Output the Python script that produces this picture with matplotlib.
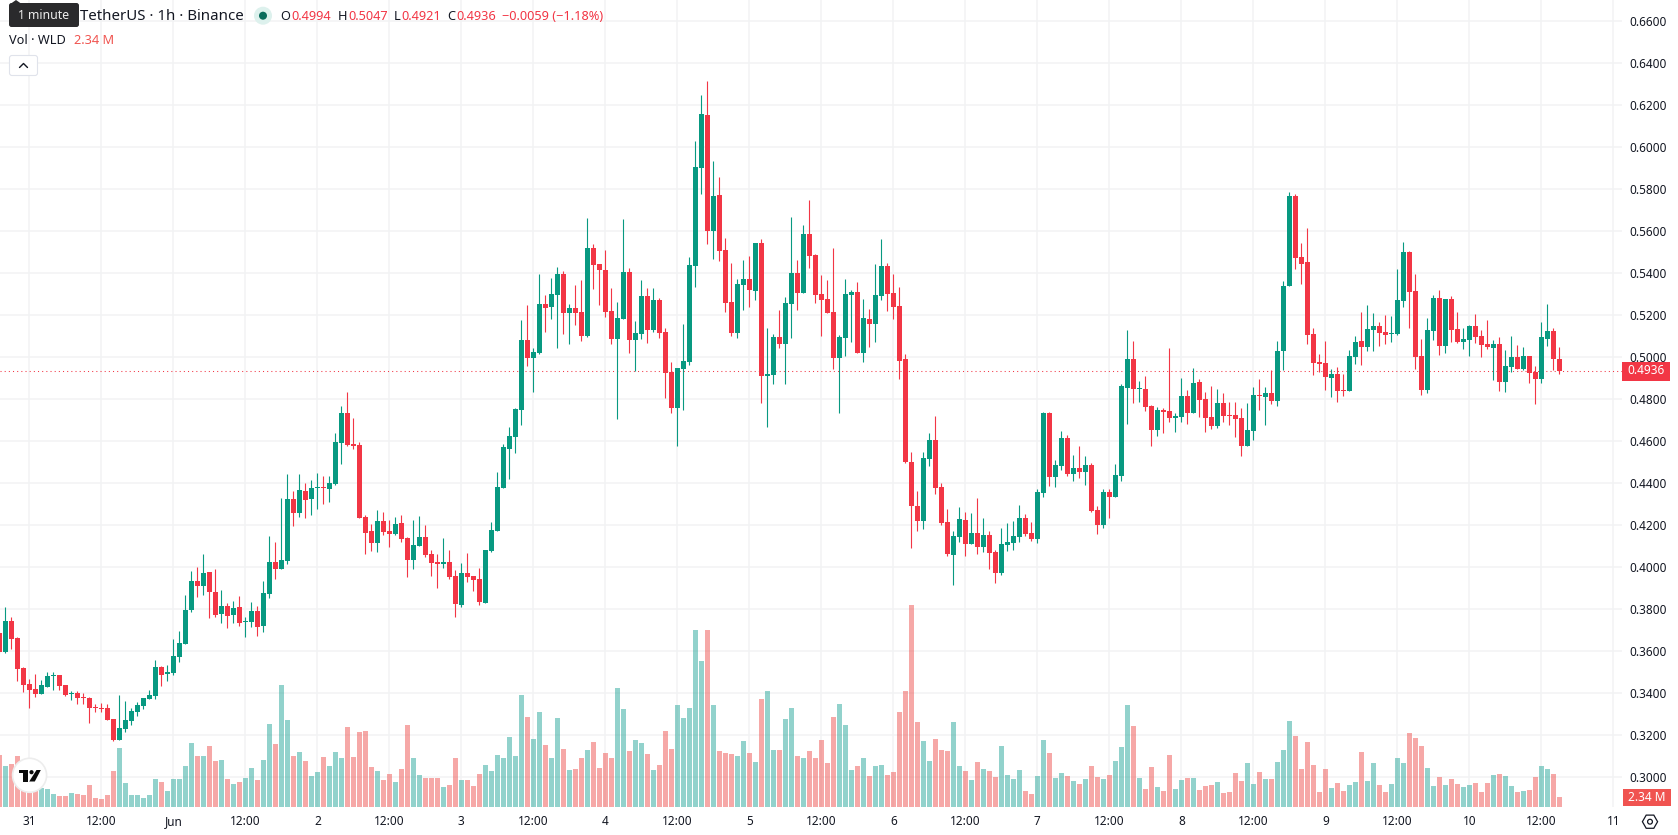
import matplotlib
matplotlib.use("Agg")
import matplotlib.pyplot as plt
from matplotlib.patches import Circle, FancyBboxPatch, Polygon, RegularPolygon, Rectangle

plt.rcParams["font.family"] = ["Noto Sans", "DejaVu Sans"]

# Hourly WLD/USDT candles; bar 0 is 31 May 00:00, the first bars belong to 30 May.
first_hour = -5
opens = [
    .3686, .3598, .3744, .3664, .3521,
    .3444, .3421, .3397, .3430, .3483, .3487, .3440, .3397, .3402, .3383, .3378, .3335,
    .3330, .3330, .3278, .3178, .3230, .3268, .3311, .3340, .3373, .3387, .3525, .3492,
    .3497, .3573, .3635, .3797, .3935, .3911, .3978, .3883, .3778, .3816, .3773, .3811,
    .3740, .3740, .3792, .3721, .3873, .4025, .3992, .4030, .4325, .4259, .4364, .4325,
    .4378, .4383, .4373, .4397, .4592, .4735, .4587, .4583, .4240, .4173, .4116, .4221,
    .4173, .4159, .4211, .4140, .4035, .4102, .4144, .4064, .4025, .4016, .4025, .3959,
    .3821, .3973, .3959, .3944, .3830, .4078, .4173, .4378, .4564, .4621, .4749, .5083,
    .4997, .5021, .5254, .5240, .5297, .5397, .5211, .5235, .5216, .5102, .5521, .5444,
    .5416, .5221, .5087, .5183, .5406, .5083, .5111, .5292, .5130, .5273, .5121, .4930,
    .4759, .4944, .4978, .5435, .5902, .6154, .5602, .5773, .5511, .5264, .5116, .5344,
    .5373, .5316, .5544, .4911, .4916, .5097, .5063, .5254, .5402, .5306, .5587, .5487,
    .5302, .5278, .5216, .4997, .5092, .5297, .5311, .5021, .5182, .5159, .5292, .5435,
    .5306, .5244, .4992, .4502, .4292, .4221, .4516, .4606, .4383, .4216, .4059, .4144,
    .4225, .4111, .4164, .4097, .4154, .4073, .3973, .4106, .4116, .4145, .4235, .4164,
    .4135, .4354, .4735, .4430, .4483, .4616, .4445, .4473, .4454, .4487, .4273, .4202,
    .4359, .4335, .4435, .4854, .4992, .4849, .4849, .4768, .4654, .4749, .4745, .4711,
    .4716, .4816, .4735, .4883, .4802, .4716, .4673, .4783, .4725, .4725, .4711, .4578,
    .4649, .4821, .4811, .4830, .4792, .5030, .5340, .5768, .5478, .5454, .5111, .4978,
    .4973, .4902, .4921, .4844, .4840, .5002, .5078, .5049, .5130, .5149, .5121, .5111,
    .5111, .5268, .5502, .5316, .5006, .4844, .5125, .5283, .5054, .5278, .5135, .5073,
    .5082, .5149, .5102, .5063, .5044, .5063, .4883, .4954, .5002, .4944, .5006, .4930,
    .4897, .5087, .5125, .4994,
]
highs = [
    .3690, .3811, .3764, .3668, .3525,
    .3468, .3492, .3464, .3502, .3502, .3487, .3440, .3411, .3411, .3402, .3383, .3349,
    .3354, .3349, .3278, .3392, .3364, .3330, .3359, .3378, .3416, .3559, .3530, .3535,
    .3659, .3697, .3868, .3983, .4002, .4064, .3978, .3992, .3892, .3830, .3840, .3864,
    .3764, .3835, .3816, .3935, .4149, .4121, .4330, .4445, .4364, .4445, .4402, .4416,
    .4449, .4435, .4435, .4640, .4768, .4835, .4711, .4597, .4249, .4206, .4273, .4264,
    .4225, .4240, .4249, .4144, .4225, .4245, .4202, .4083, .4064, .4140, .4083, .3987,
    .4021, .4068, .3959, .3997, .4083, .4216, .4454, .4587, .4668, .4759, .5178, .5249,
    .5045, .5397, .5297, .5378, .5430, .5411, .5254, .5344, .5368, .5664, .5540, .5444,
    .5511, .5330, .5264, .5659, .5425, .5173, .5368, .5330, .5330, .5283, .5140, .4978,
    .4949, .5159, .5478, .6030, .6249, .6316, .5935, .5859, .5568, .5449, .5373, .5463,
    .5483, .5544, .5563, .5140, .5111, .5225, .5287, .5668, .5463, .5630, .5749, .5492,
    .5392, .5368, .5521, .5106, .5373, .5321, .5359, .5278, .5230, .5444, .5563, .5449,
    .5397, .5335, .5016, .4549, .4363, .4549, .4640, .4721, .4402, .4278, .4173, .4287,
    .4263, .4259, .4330, .4235, .4173, .4083, .4187, .4211, .4221, .4297, .4254, .4216,
    .4373, .4740, .4740, .4511, .4649, .4630, .4535, .4578, .4530, .4497, .4292, .4373,
    .4373, .4492, .4873, .5130, .5078, .4887, .4911, .4773, .4764, .4759, .5045, .4735,
    .4902, .4845, .4949, .4897, .4835, .4864, .4849, .4830, .4787, .4787, .4759, .4783,
    .4859, .4897, .4859, .4940, .5078, .5363, .5787, .5778, .5544, .5616, .5140, .5016,
    .5078, .4944, .4954, .4921, .5035, .5102, .5216, .5249, .5211, .5168, .5202, .5197,
    .5421, .5549, .5506, .5397, .5087, .5187, .5297, .5321, .5278, .5292, .5216, .5140,
    .5154, .5206, .5130, .5178, .5082, .5097, .5035, .5102, .5059, .5049, .5006, .4959,
    .5168, .5254, .5140, .5047,
]
lows = [
    .3590, .3594, .3611, .3459, .3406,
    .3330, .3383, .3397, .3430, .3416, .3416, .3387, .3368, .3349, .3349, .3259, .3311,
    .3311, .3273, .3173, .3178, .3216, .3249, .3292, .3325, .3373, .3373, .3435, .3459,
    .3487, .3549, .3635, .3787, .3859, .3868, .3759, .3764, .3735, .3711, .3735, .3721,
    .3668, .3716, .3673, .3692, .3854, .3944, .3992, .4016, .4197, .4240, .4235, .4249,
    .4278, .4302, .4311, .4392, .4492, .4578, .4564, .4235, .4064, .4078, .4073, .4154,
    .4097, .4154, .4121, .3954, .3992, .4102, .4049, .3959, .3902, .3997, .3944, .3764,
    .3811, .3930, .3887, .3821, .3830, .4073, .4173, .4378, .4421, .4545, .4678, .4959,
    .4835, .5016, .5121, .5183, .5044, .5111, .5064, .5154, .5078, .5097, .5325, .5249,
    .5192, .5064, .4706, .5183, .5021, .4935, .5087, .5068, .5121, .5092, .4806, .4735,
    .4578, .4749, .4964, .5335, .5778, .5540, .5468, .5459, .5216, .5102, .5092, .5225,
    .5240, .5273, .4783, .4668, .4873, .5044, .4873, .5092, .5225, .5306, .5425, .5259,
    .5102, .5211, .4944, .4735, .5006, .5073, .5021, .4978, .5049, .5073, .5273, .5221,
    .5182, .4897, .4497, .4092, .4173, .4183, .4483, .4349, .4202, .4054, .3916, .4121,
    .4054, .4111, .4063, .4073, .3992, .3925, .3963, .4078, .4083, .4121, .4149, .4125,
    .4116, .4335, .4387, .4383, .4463, .4435, .4411, .4425, .4392, .4264, .4159, .4187,
    .4235, .4335, .4411, .4683, .4783, .4787, .4745, .4578, .4625, .4640, .4692, .4645,
    .4692, .4683, .4735, .4716, .4645, .4659, .4664, .4692, .4678, .4621, .4530, .4578,
    .4606, .4749, .4678, .4778, .4768, .4940, .5340, .5421, .5349, .5063, .4916, .4930,
    .4844, .4811, .4787, .4816, .4840, .4968, .4963, .5030, .5030, .5054, .5063, .5073,
    .5106, .5240, .5140, .4944, .4821, .4830, .5082, .5011, .5021, .5073, .5068, .5040,
    .5006, .5068, .5002, .5040, .4892, .4840, .4835, .4930, .4944, .4940, .4878, .4778,
    .4878, .5054, .4940, .4921,
]
closes = [
    .3598, .3744, .3659, .3517, .3440,
    .3416, .3397, .3440, .3483, .3487, .3435, .3392, .3402, .3378, .3378, .3330, .3330,
    .3325, .3273, .3178, .3235, .3273, .3316, .3344, .3378, .3392, .3525, .3487, .3502,
    .3578, .3640, .3797, .3935, .3911, .3973, .3883, .3773, .3816, .3768, .3806, .3735,
    .3744, .3792, .3716, .3878, .4025, .3992, .4035, .4325, .4259, .4368, .4321, .4378,
    .4383, .4378, .4402, .4597, .4735, .4583, .4578, .4235, .4164, .4116, .4221, .4168,
    .4159, .4206, .4135, .4035, .4106, .4144, .4059, .4021, .4016, .4025, .3954, .3825,
    .3973, .3954, .3940, .3835, .4083, .4178, .4383, .4573, .4625, .4754, .5083, .4997,
    .5025, .5254, .5235, .5302, .5397, .5211, .5235, .5211, .5102, .5521, .5440, .5416,
    .5216, .5087, .5187, .5406, .5083, .5116, .5292, .5130, .5273, .5116, .4925, .4759,
    .4949, .4983, .5440, .5906, .6159, .5602, .5768, .5506, .5259, .5116, .5349, .5373,
    .5321, .5544, .4911, .4921, .5097, .5064, .5259, .5402, .5306, .5587, .5483, .5297,
    .5273, .5211, .4997, .5097, .5302, .5311, .5021, .5187, .5159, .5297, .5435, .5302,
    .5240, .4983, .4502, .4292, .4221, .4521, .4606, .4378, .4211, .4063, .4149, .4230,
    .4111, .4164, .4097, .4154, .4068, .3973, .4111, .4121, .4149, .4235, .4159, .4135,
    .4359, .4735, .4430, .4487, .4616, .4445, .4473, .4454, .4487, .4268, .4202, .4359,
    .4335, .4440, .4864, .4992, .4849, .4854, .4764, .4654, .4749, .4740, .4711, .4721,
    .4816, .4735, .4878, .4797, .4711, .4673, .4783, .4721, .4721, .4706, .4578, .4654,
    .4821, .4816, .4830, .4792, .5030, .5340, .5768, .5473, .5444, .5106, .4973, .4968,
    .4906, .4921, .4840, .4840, .5006, .5073, .5049, .5135, .5149, .5116, .5106, .5116,
    .5273, .5502, .5311, .5002, .4844, .5130, .5283, .5054, .5278, .5130, .5073, .5087,
    .5149, .5097, .5059, .5049, .5063, .4883, .4959, .5002, .4944, .5006, .4925, .4897,
    .5097, .5125, .4992, .4936,
]
# Traded volume per hour, in millions of WLD.
volumes = [
    12.17, 9.59, 10.06, 11.93, 7.49,
    4.68, 6.24, 4.37, 4.21, 3.04, 2.57, 2.57, 3.28, 3.04, 2.81, 5.15, 2.11,
    1.87, 2.81, 8.42, 13.81, 5.62, 2.81, 2.81, 2.11, 2.81, 6.55, 5.85, 3.74,
    6.55, 6.55, 9.59, 14.98, 11.93, 11.93, 14.27, 10.76, 11.00, 6.55, 5.38, 5.85,
    6.79, 9.13, 6.32, 11.00, 19.42, 14.74, 28.55, 20.36, 11.93, 12.87, 10.76, 7.25,
    8.19, 11.70, 9.59, 12.87, 11.47, 18.72, 11.70, 17.55, 17.78, 9.36, 8.42, 6.32,
    7.72, 5.85, 8.89, 19.19, 11.47, 7.49, 6.79, 6.79, 6.79, 4.68, 5.15, 11.47,
    6.32, 6.32, 4.91, 7.72, 9.83, 8.42, 12.17, 11.47, 16.38, 11.93, 26.21, 21.06,
    15.91, 22.23, 14.51, 11.47, 20.83, 13.57, 8.66, 8.89, 11.47, 13.34, 15.21, 9.13,
    12.64, 11.47, 27.85, 22.93, 13.10, 15.68, 14.98, 12.40, 8.66, 9.83, 17.78, 13.57,
    23.87, 20.83, 23.17, 41.42, 34.16, 41.42, 23.87, 13.10, 12.64, 12.40, 11.93, 15.44,
    12.64, 10.53, 25.27, 27.14, 13.34, 13.34, 20.59, 23.17, 11.93, 11.47, 13.10, 11.47,
    15.68, 10.30, 21.06, 24.10, 19.19, 8.66, 9.59, 11.47, 7.25, 9.59, 9.83, 7.49,
    8.19, 22.23, 27.14, 47.27, 19.89, 15.44, 10.76, 15.91, 13.34, 13.10, 19.89, 9.59,
    8.42, 6.32, 10.53, 8.89, 8.42, 7.02, 14.27, 7.49, 6.55, 8.66, 3.74, 3.04,
    7.25, 15.68, 12.64, 6.79, 7.96, 7.25, 6.08, 5.38, 6.55, 9.59, 7.02, 6.55,
    7.49, 10.76, 14.04, 23.87, 18.95, 6.79, 4.21, 9.36, 4.68, 3.74, 12.17, 4.21,
    6.32, 6.79, 6.79, 3.98, 4.91, 5.15, 5.85, 3.28, 3.51, 7.96, 6.08, 10.30,
    5.38, 8.19, 6.55, 6.55, 10.53, 13.34, 20.12, 16.61, 8.89, 15.21, 9.83, 3.51,
    8.89, 4.45, 5.62, 3.74, 5.15, 5.85, 12.87, 6.08, 10.30, 5.15, 3.51, 5.38,
    11.47, 10.30, 17.32, 16.15, 14.27, 9.13, 4.91, 7.02, 5.15, 6.55, 5.38, 4.68,
    5.15, 5.62, 3.51, 5.62, 7.49, 7.72, 7.25, 4.91, 3.51, 3.74, 3.98, 7.02,
    9.59, 8.89, 7.72, 2.34,
]

price_ticks = [.30, .32, .34, .36, .38, .40, .42, .44, .46, .48, .50, .52, .54, .56, .58, .60, .62, .64, .66]
time_ticks = [0, 12, 24, 36, 48, 60, 72, 84, 96, 108, 120, 132, 144, 156, 168, 180, 192, 204, 216, 228, 240, 252, 264]
time_labels = ["31", "12:00", "Jun", "12:00", "2", "12:00", "3", "12:00", "4", "12:00", "5", "12:00",
               "6", "12:00", "7", "12:00", "8", "12:00", "9", "12:00", "10", "12:00", "11"]
last_price = 0.4936
last_volume = 2.34

UP = "#089981"
DOWN = "#F23645"
UP_VOL = "#26A69A"
DOWN_VOL = "#EF5350"
INK = "#131722"
GRID = "#F2F3F4"

W, H = 1678, 835
PANE_RIGHT, PANE_BOTTOM = 1622, 807
BAR_PX = 6.0
ZERO_HOUR_PX = 29.33
PX_PER_UNIT = 2100.0
Y46_PX = 441.3
MVOL_PER_PX = 0.234

fig = plt.figure(figsize=(W / 100, H / 100), dpi=100, facecolor="white")
ax = fig.add_axes([0, 1 - PANE_BOTTOM / H, PANE_RIGHT / W, PANE_BOTTOM / H])
ax.set_facecolor("white")
ax.set_xlim(-ZERO_HOUR_PX / BAR_PX, (PANE_RIGHT - ZERO_HOUR_PX) / BAR_PX)
ax.set_ylim(0.46 - (PANE_BOTTOM - Y46_PX) / PX_PER_UNIT, 0.46 + Y46_PX / PX_PER_UNIT)

for s in ax.spines.values():
    s.set_visible(False)
ax.set_axisbelow(True)
ax.grid(True, color=GRID, linewidth=1.1)

hours = list(range(first_hour, first_hour + len(closes)))
up = [c >= o for o, c in zip(opens, closes)]
colors = [UP if u else DOWN for u in up]

# Wicks first, bodies on top.
ax.vlines(hours, lows, highs, colors=colors, linewidth=0.8, zorder=3)
ax.bar(hours, [abs(c - o) for o, c in zip(opens, closes)],
       bottom=[min(o, c) for o, c in zip(opens, closes)],
       width=5 / 6, color=colors, linewidth=0, zorder=4)

ax.axhline(last_price, color=DOWN, linewidth=0.75, linestyle=(0, (1, 3)), zorder=2)

ax.set_xticks(time_ticks)
ax.set_xticklabels(time_labels)
ax.set_yticks(price_ticks)
ax.set_yticklabels([f"{p:.4f}" for p in price_ticks])

vol_ax = ax.twinx()
vol_ax.set_ylim(0, PANE_BOTTOM * MVOL_PER_PX)
vol_ax.bar(hours, volumes, width=5 / 6, linewidth=0, alpha=0.5,
           color=[UP_VOL if u else DOWN_VOL for u in up])
vol_ax.set_yticks([])
for s in vol_ax.spines.values():
    s.set_visible(False)

ax.yaxis.tick_right()
ax.tick_params(axis="y", length=0, pad=5.6, labelsize=8.5, labelcolor=INK)
ax.tick_params(axis="x", length=0, pad=6.0, labelsize=8.5, labelcolor=INK)
for lbl in ax.get_xticklabels():
    if lbl.get_text() == "Jun":
        lbl.set_fontweight("bold")

# Overlay in pixel coordinates for the legend strip, badges and icons.
ov = fig.add_axes([0, 0, 1, 1], facecolor="none")
ov.set_xlim(0, W)
ov.set_ylim(H, 0)
ov.axis("off")

# Last price and last volume badges on the scale.
ov.add_patch(Rectangle((1622, 361.5), 48, 19, color=DOWN, linewidth=0))
ov.text(1646, 370.7, f"{last_price:.4f}", color="white", fontsize=8.5, ha="center", va="center")
ov.add_patch(Rectangle((1623, 789), 47.5, 17, color="#F05350", linewidth=0))
ov.text(1646.5, 797.5, f"{last_volume:.2f} M", color="white", fontsize=8.5, ha="center", va="center")

# Legend strip.
ov.text(80, 16.2, "TetherUS · 1h · Binance", color=INK, fontsize=10.8, va="center", ha="left")
ov.add_patch(Circle((263, 15.7), 9, color="#DDF1ED", linewidth=0))
ov.add_patch(Circle((263, 15.7), 4, color="#0A6C5C", linewidth=0))
legend_y = 16.2
for x, letter, value_x, value in [(280.4, "O", 291.4, opens[-1]), (338, "H", 348, highs[-1]),
                                  (393.4, "L", 401, lows[-1]), (447, "C", 456.7, closes[-1])]:
    ov.text(x, legend_y, letter, color=INK, fontsize=9.2, va="center", ha="left")
    ov.text(value_x, legend_y, f"{value:.4f}", color=DOWN, fontsize=9.2, va="center", ha="left")
ov.text(502.5, legend_y, "−0.0059 (−1.18%)", color=DOWN, fontsize=9.2, va="center", ha="left")
ov.text(9, 40.7, "Vol · WLD", color=INK, fontsize=9.2, va="center", ha="left")
ov.text(74, 40.7, f"{last_volume:.2f} M", color="#F0534F", fontsize=9.2, va="center", ha="left")

# Collapse button.
ov.add_patch(FancyBboxPatch((9.5, 55.5), 28, 20, boxstyle="round,pad=0,rounding_size=2.5",
                            facecolor="white", edgecolor="#E0E3EB", linewidth=0.8))
ov.plot([19.5, 23.5, 27.5], [67.5, 63.5, 67.5], color=INK, linewidth=1.0, solid_capstyle="round")

# Hover tooltip.
ov.add_patch(FancyBboxPatch((9, 3), 70, 24, boxstyle="round,pad=0,rounding_size=2.5",
                            facecolor="#2A2A2C", edgecolor="none"))
ov.add_patch(Polygon([[11, 3.5], [16, 0], [21, 3.5]], closed=True, facecolor="#2A2A2C", edgecolor="none"))
ov.text(43.5, 15.5, "1 minute", color="#EDEDED", fontsize=8.8, va="center", ha="center")

# Round brand badge in the bottom-left corner.
ov.add_patch(Circle((29.6, 775.3), 17, facecolor="white", edgecolor="#EDEDED", linewidth=1.2))
ov.add_patch(Polygon([[18.6, 770], [28, 770], [28, 781.5], [23, 781.5], [23, 773.4], [18.6, 773.4]],
                     closed=True, facecolor="#0B0B0B", edgecolor="none"))
ov.add_patch(Circle((31.5, 772.2), 2.1, color="#0B0B0B", linewidth=0))
ov.add_patch(Polygon([[36.5, 770], [40.8, 770], [34.8, 781.5], [29.2, 781.5]],
                     closed=True, facecolor="#0B0B0B", edgecolor="none"))

# Settings icon beside the time scale.
ov.add_patch(RegularPolygon((1650, 821.7), 6, radius=7.6, orientation=3.14159 / 6,
                            facecolor="none", edgecolor=INK, linewidth=0.9))
ov.add_patch(Circle((1650, 821.7), 2.4, facecolor="none", edgecolor=INK, linewidth=0.9))

fig.savefig("out.png", dpi=100, facecolor="white")
